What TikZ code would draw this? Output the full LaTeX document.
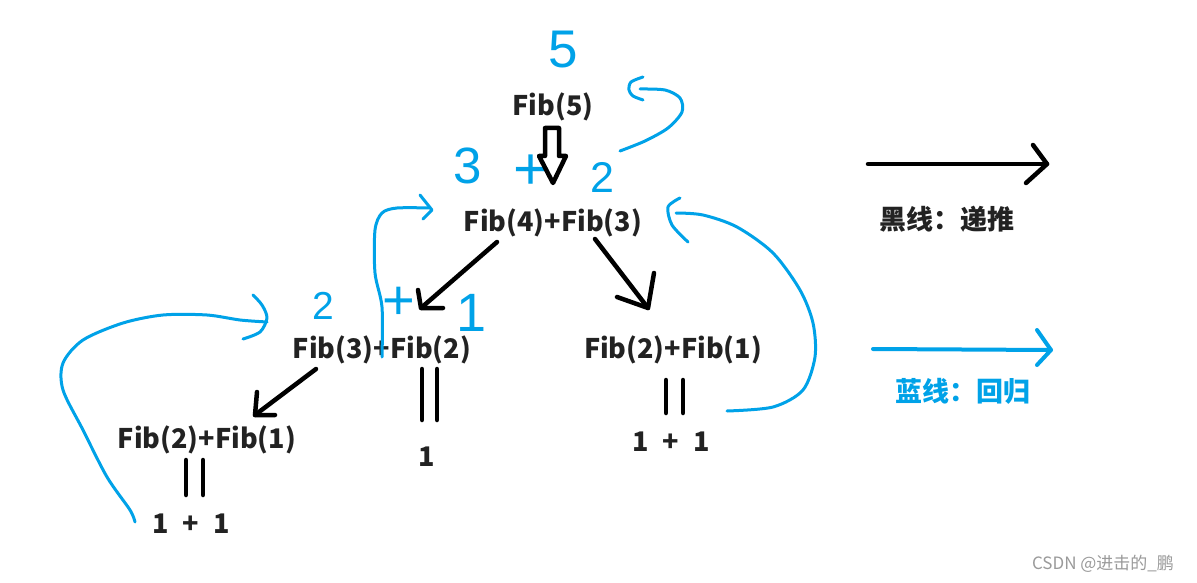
\documentclass[tikz,border=0pt]{standalone}
\usepackage{fontspec}
\newfontfamily\cjk{Noto Sans CJK SC}
\newfontfamily\hand{Liberation Sans}
\definecolor{pblue}{HTML}{00A2E8}
\definecolor{ink}{HTML}{222222}
\definecolor{wm}{HTML}{9A9A9A}
\begin{document}
\begin{tikzpicture}[x=1pt,y=-1pt,
  lbl/.style={inner sep=0pt, text=ink, font=\cjk\bfseries\fontsize{27}{32}\selectfont},
  blk/.style={line width=4.5pt, line cap=round, line join=round, draw=black},
  bl/.style={line width=3pt, line cap=round, line join=round, draw=pblue},
  hw/.style={inner sep=0pt, text=pblue}
]
\fill[white] (0,0) rectangle (1197,583);
\useasboundingbox (0,0) rectangle (1197,583);

% black labels
\node[lbl] (f5) at (553,107) {Fib(5)};
\node[lbl] (f43) at (553,223) {Fib(4)+Fib(3)};
\node[lbl] (f32) at (382,350) {Fib(3)+Fib(2)};
\node[lbl] (f21r) at (673,350) {Fib(2)+Fib(1)};
\node[lbl] (f21l) at (207,440) {Fib(2)+Fib(1)};
\node[lbl] (one) at (427,457) {1};
\node[lbl] (sumr) at (671,442) {1\hspace{14pt}+\hspace{14pt}1};
\node[lbl] (suml) at (191,524) {1\hspace{14pt}+\hspace{14pt}1};

% legend
\node[lbl] (lg1) at (947,219) {黑线：递推};
\node[lbl, text=pblue] (lg2) at (963,391) {蓝线：回归};
\node[inner sep=0pt, text=wm, font=\cjk\fontsize{17}{20}\selectfont] (wmk) at (1103,564) {CSDN @进击的\_鹏};

% hand-written blue numbers
\node[hw, font=\hand\fontsize{53}{60}\selectfont] (h5) at (563,50) {5};
\node[hw, font=\hand\fontsize{51}{60}\selectfont] (h3) at (468,166) {3};
\node[hw, font=\hand\fontsize{60}{60}\selectfont] (hp1) at (531,172) {+};
\node[hw, font=\hand\fontsize{43}{50}\selectfont] (h2a) at (602,177) {2};
\node[hw, font=\hand\fontsize{39}{50}\selectfont] (h2b) at (323,306) {2};
\node[hw, font=\hand\fontsize{56}{60}\selectfont] (hp2) at (399,303) {+};
\node[hw, font=\hand\fontsize{54}{60}\selectfont] (h1) at (472,313) {1};

% hollow block arrow Fib(5) -> Fib(4)+Fib(3)
\draw[blk] (545,128) -- (559,128) -- (559,156) -- (566,156) -- (553,183) -- (539,156) -- (545,156) -- cycle;

% black recursion arrows
\coordinate (a1s) at (497,242); \coordinate (a1t) at (421,308);
\draw[blk] (a1s) -- (a1t);
\draw[blk] (418,290) -- (a1t) -- (443,308);
\coordinate (a2s) at (595,239); \coordinate (a2t) at (648,308);
\draw[blk] (a2s) -- (a2t);
\draw[blk] (654,273) -- (a2t) -- (617,297);
\coordinate (a3s) at (316,369); \coordinate (a3t) at (255,415);
\draw[blk] (a3s) -- (a3t);
\draw[blk] (257,392) -- (a3t) -- (275,415);

% equals (vertical double bars)
\draw[blk] (186,460) -- (186,495) (203,460) -- (203,495);
\draw[blk] (422,369) -- (422,420) (437,369) -- (437,420);
\draw[blk] (666,380) -- (666,413) (683,380) -- (683,413);

% legend arrows
\coordinate (lbs) at (868,164); \coordinate (lbt) at (1047,164);
\draw[blk] (lbs) -- (lbt);
\draw[blk] (1033,145) -- (lbt) -- (1026,183);
\coordinate (lcs) at (873,349); \coordinate (lct) at (1051,350);
\draw[bl, line width=4pt] (lcs) -- (lct);
\draw[bl, line width=4pt] (1037,330) -- (lct) -- (1037,365);

% blue return curves
\draw[bl] plot[smooth] coordinates {(620,151) (645,141) (668,128) (682,112) (680,98) (665,90) (640,89)};
\draw[bl] plot[smooth] coordinates {(643,77) (631,82) (629,90) (633,96) (643,100)};

\draw[bl] plot[smooth] coordinates {(727,411) (773,407) (803,390) (815,357) (813,323) (800,290) (773,253) (737,227) (703,215) (676,213)};
\draw[bl] plot[smooth] coordinates {(680,198) (668,207) (672,225) (688,242)};

\draw[bl] plot[smooth] coordinates {(382,357) (382,307) (375,273) (375,230) (382,213) (397,208) (430,208)};
\draw[bl] (420,195) -- (432,210) -- (423,219);

\draw[bl] plot[smooth] coordinates {(135,522) (130,510) (107,477) (83,430) (63,390) (63,363) (83,340) (123,323) (163,315) (207,315) (240,320) (267,322)};
\draw[bl] plot[smooth] coordinates {(253,295) (262,305) (267,318) (260,332) (243,339)};
\end{tikzpicture}
\end{document}
